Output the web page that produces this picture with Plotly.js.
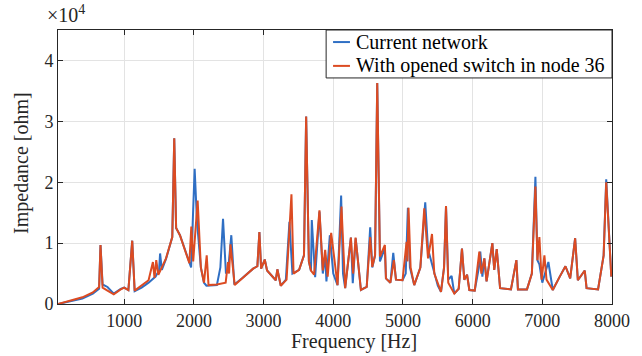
<!DOCTYPE html>
<html>
<head>
<meta charset="utf-8">
<script src="https://cdn.plot.ly/plotly-3.0.1.min.js"></script>
<style>
  html, body { margin: 0; padding: 0; background: #fff; }
  #chart { width: 642px; height: 356px; }
</style>
</head>
<body>
<div id="chart"></div>
<script>
// Network impedance seen at the bus, as a function of frequency.
const seriesNames = ['Current network', 'With opened switch in node 36'];
const seriesColors = ['#2f6fc4', '#dc4b22'];
const xTitle = 'Frequency [Hz]';
const yTitle = 'Impedance [ohm]';

// Current network: frequency [Hz] and impedance [ohm]
const freqCurrent = [
  50, 200, 400, 550, 640, 660, 690, 760, 850, 950, 1000, 1060, 1115, 1150, 1250, 1350,
  1450, 1500, 1515, 1540, 1600, 1690, 1718, 1745, 1800, 1900, 1960, 2011, 2045, 2100,
  2145, 2180, 2250, 2330, 2380, 2418, 2460, 2490, 2537, 2580, 2700, 2850, 2911, 2940,
  2965, 3017, 3050, 3175, 3198, 3247, 3320, 3371, 3414, 3510, 3580, 3611, 3650, 3680,
  3692, 3740, 3802, 3850, 3884, 3902, 3951, 4000, 4061, 4113, 4140, 4171, 4253, 4280,
  4322, 4397, 4480, 4530, 4560, 4600, 4631, 4670, 4741, 4756, 4820, 4861, 4900, 4994,
  5040, 5071, 5100, 5162, 5250, 5320, 5360, 5420, 5500, 5546, 5590, 5618, 5650, 5698,
  5737, 5800, 5847, 5880, 5920, 5953, 6030, 6090, 6110, 6140, 6168, 6200, 6283, 6310,
  6346, 6394, 6550, 6628, 6650, 6780, 6850, 6901, 6930, 6958, 7000, 7087, 7150, 7250,
  7332, 7400, 7471, 7510, 7609, 7635, 7800, 7880, 7917, 7990
];
const zCurrent = [
  0, 350, 900, 1700, 2500, 9700, 3200, 2800, 1700, 2500, 2700, 2300, 10400, 2100, 2700, 3500,
  4500, 5500, 8300, 5600, 7400, 11000, 27200, 12500, 11300, 8000, 6000, 22200, 13500, 6000,
  3500, 3000, 3000, 3100, 6000, 14000, 5000, 5400, 11300, 3200, 4300, 5800, 6200, 11800,
  5800, 7300, 5500, 3900, 5700, 3000, 4000, 13500, 5000, 5600, 8000, 30800, 7000, 5400,
  13800, 4400, 15200, 5000, 8000, 3700, 11300, 5000, 3100, 17800, 5000, 2600, 10900, 3400,
  10800, 2300, 2800, 12600, 6000, 8000, 36300, 7000, 9200, 4200, 3500, 8400, 4000, 3900,
  5000, 15800, 6000, 3100, 6000, 16700, 9000, 6500, 3000, 2000, 6000, 16100, 4000, 4600,
  1700, 2500, 9100, 4000, 4800, 2300, 2200, 6000, 8600, 4500, 7500, 3700, 10000, 5600,
  9000, 2600, 2400, 7200, 2400, 2400, 5000, 20900, 7200, 6500, 3500, 6900, 2300, 4500,
  6200, 4200, 10800, 3900, 5500, 2600, 2400, 8000, 20500, 4500
];

// Opened switch in node 36: frequency [Hz] and impedance [ohm]
const freqOpened = [
  50, 200, 400, 550, 640, 660, 690, 760, 850, 950, 1000, 1060, 1115, 1150, 1250, 1350,
  1412, 1435, 1460, 1490, 1600, 1690, 1718, 1745, 1800, 1900, 1935, 1963, 1990, 2054,
  2100, 2145, 2184, 2210, 2330, 2456, 2490, 2505, 2525, 2586, 2700, 2850, 2911, 2940,
  2965, 3017, 3050, 3175, 3198, 3247, 3330, 3400, 3430, 3510, 3580, 3611, 3650, 3680,
  3725, 3802, 3850, 3884, 3920, 3970, 4061, 4118, 4171, 4253, 4285, 4320, 4397, 4480,
  4530, 4560, 4600, 4631, 4670, 4741, 4756, 4820, 4870, 4900, 4994, 5052, 5065, 5080,
  5110, 5162, 5250, 5306, 5360, 5417, 5450, 5546, 5590, 5618, 5650, 5737, 5800, 5847,
  5880, 5920, 5953, 6030, 6096, 6125, 6168, 6200, 6283, 6310, 6346, 6394, 6550, 6628,
  6650, 6780, 6850, 6901, 6930, 6958, 6990, 7030, 7060, 7150, 7250, 7332, 7400, 7471,
  7510, 7609, 7635, 7800, 7880, 7917, 7990
];
const zOpened = [
  0, 450, 1100, 1900, 2800, 9700, 2700, 2200, 1600, 2400, 2700, 2300, 10400, 2200, 3000, 3900,
  6900, 4300, 7200, 4800, 7500, 11000, 27200, 12500, 11300, 8000, 6700, 12700, 7000, 17000,
  6000, 3500, 8000, 3100, 3200, 3500, 6900, 5000, 9800, 3100, 4300, 5800, 6200, 11800,
  5800, 7300, 5500, 3900, 5700, 3000, 4000, 18000, 5000, 5600, 8000, 30800, 7000, 5500,
  4800, 15400, 5500, 8900, 4500, 11700, 3100, 16000, 2600, 10900, 5000, 10900, 2300, 2800,
  11000, 6100, 8000, 36300, 7800, 9700, 4200, 3500, 7200, 4000, 3900, 10200, 7000, 15800,
  6000, 3100, 6000, 15700, 7500, 11500, 5000, 2000, 6000, 16100, 3500, 1700, 2500, 9100,
  4000, 4800, 2300, 2200, 8600, 5000, 7500, 3700, 10000, 5600, 9000, 2600, 2400, 7200,
  2400, 2400, 5000, 19300, 7200, 11000, 4000, 8000, 4000, 2300, 4500, 6200, 4200, 10800,
  3900, 5500, 2600, 2400, 8000, 20000, 4500
];

// Axis ticks
const xTickVals = [1000, 2000, 3000, 4000, 5000, 6000, 7000, 8000];
const yTickVals = [0, 10000, 20000, 30000, 40000];
const yTickText = ['0', '1', '2', '3', '4'];

const serif = 'Liberation Serif, Times New Roman, serif';
const axisColor = '#262626';

const traces = [
  {
    x: freqCurrent, y: zCurrent, name: seriesNames[0],
    type: 'scatter', mode: 'lines',
    line: { color: seriesColors[0], width: 2 }
  },
  {
    x: freqOpened, y: zOpened, name: seriesNames[1],
    type: 'scatter', mode: 'lines',
    line: { color: seriesColors[1], width: 2 }
  }
];

const axisCommon = {
  showline: true, mirror: 'ticks', linecolor: axisColor, linewidth: 1,
  ticks: 'inside', ticklen: 5, tickcolor: axisColor,
  showgrid: true, gridcolor: '#e3e3e3', gridwidth: 1,
  zeroline: false,
  tickfont: { family: serif, size: 18, color: axisColor }
};

// Compact boxed legend in the upper-right corner of the axes (paper coordinates)
const legendBox = { x0: 0.484, x1: 1, y0: 0.825, y1: 1 };
const legendRows = [0.956, 0.869];
const legendShapes = [
  {
    type: 'rect', xref: 'paper', yref: 'paper', layer: 'above',
    x0: legendBox.x0, x1: legendBox.x1, y0: legendBox.y0, y1: legendBox.y1,
    fillcolor: '#ffffff', line: { color: axisColor, width: 1 }
  }
].concat(legendRows.map((yr, i) => ({
  type: 'line', xref: 'paper', yref: 'paper', layer: 'above',
  x0: 0.4965, x1: 0.527, y0: yr, y1: yr,
  line: { color: seriesColors[i], width: 2 }
})));
const legendLabels = legendRows.map((yr, i) => ({
  text: seriesNames[i], xref: 'paper', yref: 'paper',
  x: 0.535, y: yr, xanchor: 'left', yanchor: 'middle',
  showarrow: false, font: { family: serif, size: 20, color: '#000' }
}));

// Axis labels placed as annotations so they can sit slightly off-centre
const titleFont = { family: serif, size: 20, color: axisColor };
const axisLabels = [
  {
    text: xTitle, xref: 'paper', yref: 'paper',
    x: 0.534, y: 0, xanchor: 'center', yanchor: 'middle', yshift: -37,
    showarrow: false, font: titleFont
  },
  {
    text: yTitle, xref: 'paper', yref: 'paper', textangle: -90,
    x: 0, y: 0.515, xanchor: 'center', yanchor: 'middle', xshift: -36,
    showarrow: false, font: titleFont
  }
];

const layout = {
  width: 642, height: 356,
  margin: { l: 58, r: 30, t: 30, b: 52 },
  paper_bgcolor: '#ffffff', plot_bgcolor: '#ffffff',
  showlegend: false,
  xaxis: Object.assign({}, axisCommon, { range: [50, 8000], tickvals: xTickVals }),
  yaxis: Object.assign({}, axisCommon, { range: [0, 45000], tickvals: yTickVals, ticktext: yTickText }),
  shapes: legendShapes,
  annotations: [{
    text: '×10<sup>4</sup>', xref: 'paper', yref: 'paper',
    x: 0, y: 1, xanchor: 'center', yanchor: 'bottom', xshift: 8, yshift: 2,
    showarrow: false, font: { family: serif, size: 20, color: axisColor }
  }].concat(legendLabels, axisLabels)
};

Plotly.newPlot('chart', traces, layout, { displayModeBar: false, staticPlot: true });
</script>
</body>
</html>
